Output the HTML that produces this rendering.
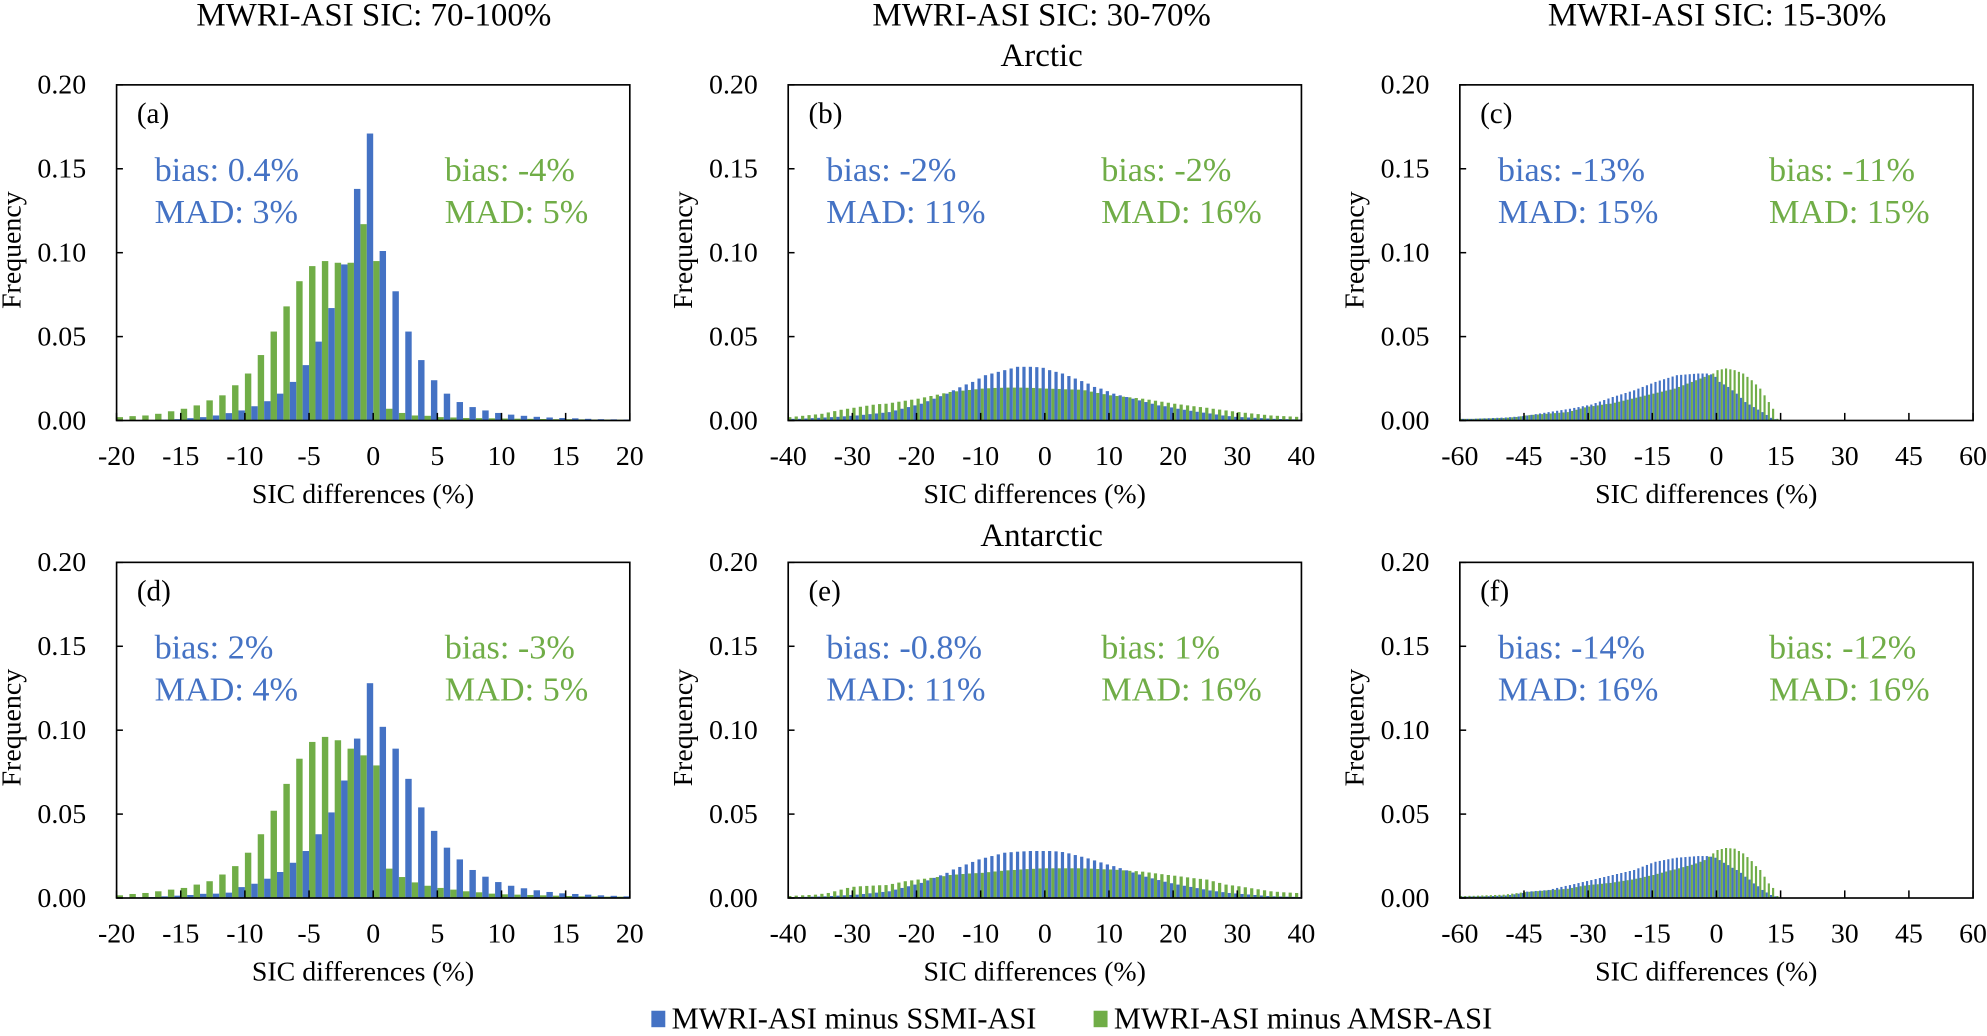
<!DOCTYPE html>
<html><head><meta charset="utf-8"><style>
html,body{margin:0;padding:0;background:#fff;}
svg, svg text{font-family:"Liberation Serif","Times New Roman",serif;}
</style></head><body>
<svg id="fig" width="1987" height="1031" viewBox="0 0 1568 814" preserveAspectRatio="none" font-family="Liberation Serif, serif" xmlns="http://www.w3.org/2000/svg">
<text x="295" y="20" font-size="26" text-anchor="middle">MWRI-ASI SIC: 70-100%</text>
<text x="822" y="20" font-size="26" text-anchor="middle">MWRI-ASI SIC: 30-70%</text>
<text x="1355" y="20" font-size="26" text-anchor="middle">MWRI-ASI SIC: 15-30%</text>
<text x="822" y="52" font-size="26" text-anchor="middle">Arctic</text>
<text x="822" y="431" font-size="26" text-anchor="middle">Antarctic</text>
<g>
<rect x="514" y="798" width="11" height="13" fill="#4472C4"/>
<text x="530" y="812" font-size="24">MWRI-ASI minus SSMI-ASI</text>
<rect x="863" y="798" width="11" height="13" fill="#70AD47"/>
<text x="879" y="812" font-size="24">MWRI-ASI minus AMSR-ASI</text>
</g>
<g id="panels"></g>
</svg>
<script>
// Panel (a) Arctic 70-100%, bins -20..19
const aBlue=[0,0,.0002,.0005,.0008,.0014,.002,.003,.0044,.006,.0085,.0115,.016,.023,.033,.047,.067,.093,.138,.171,.101,.077,.053,.036,.024,.016,.011,.008,.006,.0045,.0035,.0028,.0022,.0018,.0015,.0013,.001,.0008,.0007,.0006];
const aGreen=[.002,.0026,.003,.004,.0055,.007,.009,.012,.015,.021,.028,.039,.053,.068,.083,.092,.095,.094,.094,.117,.095,.007,.0045,.003,.0028,.002,.0018,.0015,.0014,.0013,.0012,.0011,.001,.0009,.0008,.0008,.0007,.0006,.0006,.0005];
// Panel (d) Antarctic 70-100%
const dBlue=[.0003,.0004,.0006,.001,.0014,.0018,.0025,.0026,.0032,.0065,.0085,.0115,.0155,.021,.028,.038,.051,.070,.095,.128,.102,.089,.071,.054,.040,.030,.023,.0167,.0127,.0095,.0073,.0058,.0046,.0036,.0028,.0024,.002,.0016,.0013,.001];
const dGreen=[.0016,.0024,.003,.004,.005,.006,.008,.010,.014,.019,.027,.038,.052,.068,.083,.093,.096,.094,.089,.085,.079,.0175,.0125,.0093,.0073,.006,.005,.004,.0034,.0026,.0022,.002,.0018,.0016,.0014,.0012,.001,.001,.0008,.0008];
// Panel (b) Arctic 30-70%, bins -40..39
const bBlue=[.001,.001,.0012,.0014,.0016,.0018,.002,.0022,.0025,.0028,.003,.0034,.0038,.0042,.0046,.005,.006,.007,.008,.009,.010,.0115,.013,.0145,.016,.018,.0198,.0215,.023,.025,.027,.028,.029,.030,.031,.032,.032,.032,.0318,.0314,.030,.029,.028,.0265,.025,.0235,.022,.020,.019,.0175,.016,.015,.014,.013,.012,.011,.010,.009,.0085,.0078,.007,.0064,.0058,.0052,.0047,.0042,.0036,.003,.0026,.0022,.002,.0018,.0016,.0014,.0012,.001,.0009,.0008,.0007,.0006];
const bGreen=[.002,.0024,.0028,.0032,.0036,.004,.0048,.0056,.0064,.007,.0076,.0082,.0088,.0094,.0098,.010,.0106,.0112,.0118,.0124,.013,.0138,.0146,.0154,.0162,.017,.0174,.0178,.0182,.0186,.019,.0192,.0194,.0195,.0196,.0196,.0196,.0195,.0194,.0192,.019,.0189,.0188,.0186,.0185,.0184,.018,.0172,.0164,.0157,.015,.0146,.0142,.0138,.0134,.013,.0124,.0118,.0112,.0106,.010,.0095,.009,.0085,.008,.0076,.007,.0065,.006,.0055,.005,.0046,.0042,.0038,.0034,.003,.0028,.0026,.0024,.0022];
// Panel (e) Antarctic 30-70%
const eBlue=[.0005,.0006,.0007,.0008,.0009,.001,.0012,.0014,.0016,.0018,.002,.0024,.0028,.0032,.0036,.004,.005,.006,.007,.008,.009,.0105,.012,.0135,.015,.017,.0185,.020,.0215,.023,.024,.025,.026,.027,.0273,.0276,.0278,.028,.028,.028,.028,.0278,.0274,.0266,.0256,.0246,.0236,.0224,.0212,.020,.019,.0178,.0165,.0152,.014,.0127,.0117,.0107,.0097,.0088,.008,.0073,.0066,.0059,.0052,.0045,.004,.0035,.003,.0027,.0024,.0021,.0018,.0015,.0012,.001,.0009,.0008,.0007,.0006];
const eGreen=[.0012,.0014,.0016,.0018,.002,.0025,.003,.004,.005,.006,.0067,.007,.0072,.0074,.0076,.0077,.0084,.0092,.010,.0105,.011,.0115,.012,.0125,.013,.0137,.014,.0143,.0146,.0148,.015,.0154,.0158,.0162,.0165,.0167,.017,.0172,.0174,.0176,.0177,.0177,.0177,.0177,.0177,.0177,.0176,.0175,.0173,.0171,.017,.0168,.0165,.0162,.016,.0157,.0152,.0147,.0142,.0137,.0133,.0128,.0123,.0118,.0114,.011,.010,.009,.008,.0075,.007,.0064,.0058,.0052,.0046,.004,.0037,.0034,.0032,.003];
// Panel (c) Arctic 15-30%, bins -60.. (remaining bins empty)
const cBlue=[.001,.001,.001,.0011,.0012,.0013,.0014,.0015,.0016,.0017,.0018,.002,.0022,.0024,.0026,.003,.0034,.0038,.0042,.0046,.005,.0054,.0058,.0062,.0066,.007,.0075,.008,.0085,.009,.0095,.0104,.0113,.0122,.0131,.014,.0148,.0156,.0164,.0172,.018,.019,.020,.021,.022,.023,.0238,.0246,.0254,.0262,.027,.0272,.0274,.0276,.0278,.028,.028,.028,.0275,.026,.023,.0215,.020,.018,.016,.0135,.011,.0095,.008,.0065,.005,.0033,.0016,.0008,.0003];
const cGreen=[.001,.001,.001,.001,.0011,.0012,.0012,.0013,.0014,.0015,.0015,.0017,.0019,.0021,.0025,.003,.0032,.0034,.0036,.0038,.004,.0042,.0044,.0046,.0048,.005,.0057,.0064,.0071,.0078,.0083,.0086,.009,.0094,.0098,.010,.0106,.0112,.0118,.0124,.013,.0136,.0142,.0148,.0154,.016,.0166,.0172,.0178,.0184,.019,.020,.021,.022,.023,.024,.025,.026,.027,.028,.030,.0305,.031,.0305,.030,.029,.028,.026,.024,.0215,.019,.015,.011,.007,.001];
// Panel (f) Antarctic 15-30%
const fBlue=[.0008,.0008,.0009,.0009,.001,.001,.0011,.0012,.0013,.0014,.0015,.0018,.0022,.0026,.003,.0038,.004,.0042,.0044,.0046,.0048,.0054,.006,.0066,.0072,.0077,.0083,.0089,.0095,.0101,.0107,.0113,.0119,.0125,.0131,.0137,.0143,.0149,.0155,.0161,.0167,.0177,.0187,.0197,.0207,.0216,.0221,.0226,.0231,.0236,.024,.0242,.0244,.0246,.0248,.025,.025,.025,.0246,.024,.0226,.021,.0196,.018,.0167,.015,.0127,.011,.0087,.007,.0048,.0033,.0018,.001,.0004];
const fGreen=[.0012,.0012,.0013,.0013,.0014,.0015,.0016,.0017,.0018,.0019,.002,.0023,.0026,.0029,.0032,.0035,.0037,.0039,.0041,.0043,.0045,.0047,.0049,.0051,.0053,.0055,.006,.0065,.007,.0074,.0077,.008,.0082,.0085,.0088,.009,.0094,.0098,.0102,.0106,.011,.0115,.012,.0126,.0132,.0137,.0144,.0151,.0158,.0165,.017,.0177,.0184,.0191,.0198,.0206,.0216,.0226,.0246,.0266,.0286,.0292,.0298,.0296,.0294,.028,.0266,.0244,.022,.019,.0167,.0127,.0087,.006,.0012];
const yTicks=["0.00","0.05","0.10","0.15","0.20"];
const xTicksA=["-20","-15","-10","-5","0","5","10","15","20"];
const xTicksB=["-40","-30","-20","-10","0","10","20","30","40"];
const xTicksC=["-60","-45","-30","-15","0","15","30","45","60"];
const statsA=["bias: 0.4%","MAD: 3%","bias: -4%","MAD: 5%"];
const statsB=["bias: -2%","MAD: 11%","bias: -2%","MAD: 16%"];
const statsC=["bias: -13%","MAD: 15%","bias: -11%","MAD: 15%"];
const statsD=["bias: 2%","MAD: 4%","bias: -3%","MAD: 5%"];
const statsE=["bias: -0.8%","MAD: 11%","bias: 1%","MAD: 16%"];
const statsF=["bias: -14%","MAD: 16%","bias: -12%","MAD: 16%"];

const NS="http://www.w3.org/2000/svg";
const root=document.getElementById('panels');
function mk(tag,attrs,parent){const e=document.createElementNS(NS,tag);for(const k in attrs)e.setAttribute(k,attrs[k]);parent.appendChild(e);return e;}
const W=405,H=265,BLUE="#4472C4",GREEN="#70AD47";
function panel(id,px,py,xmin,xmax,xticks,blue,green,stats,gx){
  const g=mk('g',{},root);
  
  
  const xs=v=>px+(v-xmin)/(xmax-xmin)*W;
  const ys=v=>py+H-v/0.2*H;
  const bw=(xs(xmin+1)-xs(xmin))/2;
  green.forEach((v,i)=>{const r=mk('rect',{x:xs(xmin+i),y:ys(v),width:bw,height:ys(0)-ys(v),fill:GREEN},g);
    
    });
  blue.forEach((v,i)=>{const r=mk('rect',{x:xs(xmin+i)+bw,y:ys(v),width:bw,height:ys(0)-ys(v),fill:BLUE},g);
    
    });
  const fr=mk('rect',{x:px,y:py,width:W,height:H,fill:'none',stroke:'#000','stroke-width':1.3},g);
  
  
  yTicks.forEach((t,i)=>{const v=+t;const y=ys(v);
    mk('line',{x1:px,x2:px+5,y1:y,y2:y,stroke:'#000','stroke-width':1.2},g);
    const tx=mk('text',{x:px-24,y:y+7,'font-size':22,'text-anchor':'end'},g);tx.textContent=t;
    
    });
  xticks.forEach(t=>{const x=xs(+t);
    mk('line',{x1:x,x2:x,y1:py+H,y2:py+H-6,stroke:'#000','stroke-width':1.2},g);
    const tx=mk('text',{x:x,y:py+H+35,'font-size':22,'text-anchor':'middle'},g);tx.textContent=t;
    
    });
  const xt=mk('text',{x:px+W/2-8,y:py+H+65,'font-size':22,'text-anchor':'middle'},g);xt.textContent='SIC differences (%)';
  
  
  const yt=mk('text',{x:0,y:0,'font-size':22,'text-anchor':'middle',transform:`translate(${px-76},${py+H/2-2}) rotate(-90)`},g);yt.textContent='Frequency';
  
  
  const pl=mk('text',{x:px+16,y:py+30,'font-size':23},g);pl.textContent='('+id+')';
  
  
  const s=[[px+30,py+76,BLUE,stats[0]],[px+30,py+109,BLUE,stats[1]],[px+gx,py+76,GREEN,stats[2]],[px+gx,py+109,GREEN,stats[3]]];
  s.forEach(a=>{const t=mk('text',{x:a[0],y:a[1],'font-size':27,fill:a[2]},g);t.textContent=a[3];
    
    });
}
panel('a',92,67,-20,20,xTicksA,aBlue,aGreen,statsA,259);
panel('b',622,67,-40,40,xTicksB,bBlue,bGreen,statsB,247);
panel('c',1152,67,-60,60,xTicksC,cBlue,cGreen,statsC,244);
panel('d',92,444,-20,20,xTicksA,dBlue,dGreen,statsD,259);
panel('e',622,444,-40,40,xTicksB,eBlue,eGreen,statsE,247);
panel('f',1152,444,-60,60,xTicksC,fBlue,fGreen,statsF,244);
</script>
</body></html>
